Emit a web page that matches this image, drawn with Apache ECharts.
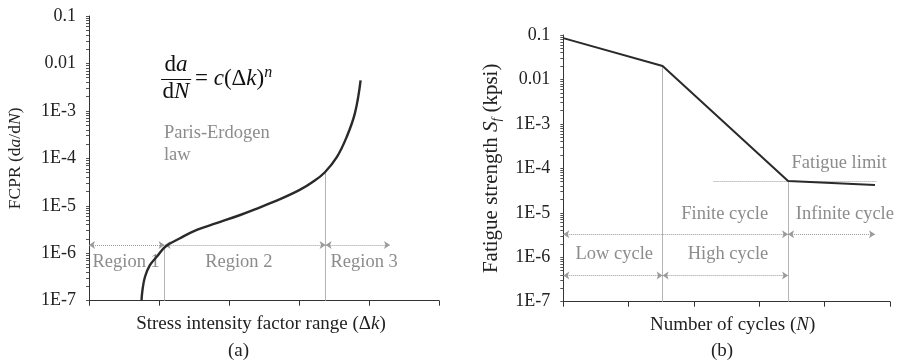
<!DOCTYPE html>
<html>
<head>
<meta charset="utf-8">
<script src="https://cdn.jsdelivr.net/npm/echarts@6/dist/echarts.min.js"></script>
<style>
html, body { margin: 0; padding: 0; background: #fff; }
#main { width: 899px; height: 364px; }
</style>
</head>
<body>
<div id="main"></div>
<script>
// decade labels on both log axes, bottom to top
var yTickLabels = ['1E-7', '1E-6', '1E-5', '1E-4', '1E-3', '0.01', '0.1'];

// (a) crack growth rate curve
var fcprX = [0.75, 0.764, 0.80, 0.87, 0.97, 1.09, 1.30, 1.54, 1.82, 2.16, 2.37, 2.73, 3.01, 3.20, 3.37, 3.54, 3.68, 3.80, 3.88];
var fcprY = [1.0e-7, 1.68e-7, 3.2e-7, 5.6e-7, 8.5e-7, 1.37e-6, 2.07e-6, 3.1e-6, 4.3e-6, 6.4e-6, 8.4e-6, 1.38e-5, 2.16e-5, 3.2e-5, 5.1e-5, 1.06e-4, 2.8e-4, 9.1e-4, 4.4e-3];
var regionBounds = [0, 1.08, 3.38, 4.3];
var regionGuideTop = [1.4e-6, 5.3e-5];
var regionArrowY = 1.5e-6;
var regionNames = ['Region 1', 'Region 2', 'Region 3'];
var regionLabelX = [0.53, 2.14, 3.93];
var regionLabelY = 6.6e-7;

// (b) S-N curve
var snX = [0, 1.52, 3.44, 4.77];
var snY = [0.085, 0.02, 5.2e-5, 4.2e-5];
var fatigueLimitY = 5.1e-5;
var fatigueLimitX = [2.3, 4.79];
var finiteRowY = 3.3e-6;
var lowRowY = 3.9e-7;
var cycleNames = ['Finite cycle', 'Infinite cycle', 'Low cycle', 'High cycle', 'Fatigue limit'];
var cycleLabelX = [2.47, 4.31, 0.78, 2.52, 4.22];
var cycleLabelY = [9.4e-6, 9.4e-6, 1.18e-6, 1.18e-6, 1.3e-4];

var lg = Math.log10;
var FONT = '"Liberation Serif", "DejaVu Serif", serif';
var GRAY = '#8c8c8c';
var GUIDE = '#b4b4b4';

// minor ticks: 2..9 inside each decade
var yTicks = [];
for (var d = -7; d <= -1; d++) {
    yTicks.push(d);
    if (d < -1) {
        for (var k = 2; k <= 9; k++) yTicks.push(d + lg(k));
    }
}

function toPts(xs, ys) {
    var out = [];
    for (var i = 0; i < xs.length; i++) out.push([xs[i], lg(ys[i])]);
    return out;
}
function seg(x1, y1, x2, y2) {
    return [{ coord: [x1, lg(y1)] }, { coord: [x2, lg(y2)] }];
}
function txt(x, y, s, align, extra) {
    var label = {
        show: true, position: 'inside', formatter: s, align: align || 'center',
        color: GRAY, fontFamily: FONT, fontSize: 18.5
    };
    if (extra) for (var p in extra) label[p] = extra[p];
    return { coord: [x, lg(y)], symbol: 'circle', symbolSize: 0, label: label };
}

function xAxisOf(idx, name, pad) {
    return {
        gridIndex: idx, type: 'value', min: 0, max: 5, interval: 1,
        axisLine: { lineStyle: { color: '#333', width: 1 } },
        axisTick: { length: 5, lineStyle: { color: '#333' } },
        axisLabel: { show: false },
        splitLine: { show: false },
        name: name, nameLocation: 'middle', nameGap: 14,
        nameTextStyle: {
            color: '#222', fontFamily: FONT, fontSize: 19, padding: pad,
            rich: { i: { fontStyle: 'italic', fontFamily: FONT, fontSize: 19, color: '#222' } }
        }
    };
}
function yAxisOf(idx, name, gap, size) {
    return {
        gridIndex: idx, type: 'value', min: -7, max: -1, interval: 1,
        axisLine: { show: true, lineStyle: { color: '#333', width: 1 } },
        axisTick: { show: true, length: 3, customValues: yTicks, lineStyle: { color: '#555' } },
        axisLabel: {
            color: '#222', fontFamily: FONT, fontSize: 18, margin: 13,
            formatter: function (v) { return yTickLabels[Math.round(v) + 7]; }
        },
        splitLine: { show: false },
        name: name, nameLocation: 'middle', nameGap: gap,
        nameTextStyle: {
            color: '#222', fontFamily: FONT, fontSize: size,
            rich: {
                i: { fontStyle: 'italic', fontFamily: FONT, fontSize: size, color: '#222' },
                sub: { fontStyle: 'italic', fontFamily: FONT, fontSize: 13, color: '#222', padding: [10, 0, 0, 0] }
            }
        }
    };
}

var chart = echarts.init(document.getElementById('main'));

var dottedArrow = {
    silent: true, animation: false,
    symbol: ['arrow', 'arrow'], symbolSize: 6,
    lineStyle: { color: '#9a9a9a', type: 'dotted', width: 1 },
    label: { show: false }
};
var guideLine = {
    silent: true, animation: false, symbol: ['none', 'none'],
    lineStyle: { color: GUIDE, type: 'solid', width: 1 },
    label: { show: false }
};

var fracRich = {
    i: { fontStyle: 'italic', fontFamily: FONT, fontSize: 23, color: '#111' },
    sup: { fontStyle: 'italic', fontFamily: FONT, fontSize: 16, color: '#111', padding: [0, 0, 13, 0] }
};
var formulaStyle = { color: '#111', fontSize: 23, rich: fracRich };

var regionTexts = [];
for (var r = 0; r < regionNames.length; r++) {
    regionTexts.push(txt(regionLabelX[r], regionLabelY, regionNames[r]));
}
var cycleTexts = [];
for (var c = 0; c < cycleNames.length; c++) {
    cycleTexts.push(txt(cycleLabelX[c], cycleLabelY[c], cycleNames[c]));
}

var option = {
    animation: false,
    backgroundColor: '#fff',
    grid: [
        { left: 89, top: 16, width: 350, height: 284.7 },
        { left: 563.3, top: 35, width: 326.7, height: 266.7 }
    ],
    xAxis: [
        xAxisOf(0, 'Stress intensity factor range (Δ{i|k})', [0, 6, 0, 0]),
        xAxisOf(1, 'Number of cycles ({i|N})', [0, 0, 0, 12])
    ],
    yAxis: [
        yAxisOf(0, 'FCPR (d{i|a}/d{i|N})', 65, 17.5),
        yAxisOf(1, 'Fatigue strength {i|S}{sub|f} (kpsi)', 60, 21)
    ],
    graphic: [
        { type: 'text', left: 228, top: 342, style: { text: '(a)', font: '19px ' + FONT, fill: '#222' } },
        { type: 'text', left: 711, top: 342, style: { text: '(b)', font: '19px ' + FONT, fill: '#222' } }
    ],
    series: [
        {
            name: 'FCPR', type: 'line', xAxisIndex: 0, yAxisIndex: 0,
            data: toPts(fcprX, fcprY), smooth: 0.4, showSymbol: false,
            lineStyle: { color: '#2a2a2a', width: 2.4 }, z: 5,
            markPoint: {
                silent: true, animation: false,
                data: regionTexts.concat([
                    txt(1.07, Math.pow(10, -3.466), 'Paris-Erdogen', 'left'),
                    txt(1.07, Math.pow(10, -3.93), 'law', 'left'),
                    txt(1.243, Math.pow(10, -2.04), 'd{i|a}', 'center', formulaStyle),
                    txt(1.243, Math.pow(10, -2.6), 'd{i|N}', 'center', formulaStyle),
                    txt(1.514, Math.pow(10, -2.33), '= {i|c}(Δ{i|k}){sup|n}', 'left', formulaStyle)
                ])
            }
        },
        {
            name: 'guides a', type: 'line', xAxisIndex: 0, yAxisIndex: 0, data: [],
            markLine: Object.assign({}, guideLine, {
                data: [
                    seg(regionBounds[1], 1e-7, regionBounds[1], regionGuideTop[0]),
                    seg(regionBounds[2], 1e-7, regionBounds[2], regionGuideTop[1])
                ]
            })
        },
        {
            name: 'arrows a', type: 'line', xAxisIndex: 0, yAxisIndex: 0, data: [],
            markLine: Object.assign({}, dottedArrow, {
                data: [
                    seg(regionBounds[0], regionArrowY, regionBounds[1], regionArrowY),
                    seg(regionBounds[1], regionArrowY, regionBounds[2], regionArrowY),
                    seg(regionBounds[2], regionArrowY, regionBounds[3], regionArrowY)
                ]
            })
        },
        {
            name: 'fraction bar', type: 'line', xAxisIndex: 0, yAxisIndex: 0, data: [],
            markLine: {
                silent: true, animation: false, symbol: ['none', 'none'], label: { show: false },
                lineStyle: { color: '#111', type: 'solid', width: 1 },
                data: [seg(1.03, Math.pow(10, -2.334), 1.46, Math.pow(10, -2.334))]
            }
        },
        {
            name: 'S-N', type: 'line', xAxisIndex: 1, yAxisIndex: 1,
            data: toPts(snX, snY), showSymbol: false,
            lineStyle: { color: '#2a2a2a', width: 2 }, z: 5,
            markPoint: { silent: true, animation: false, data: cycleTexts }
        },
        {
            name: 'guides b', type: 'line', xAxisIndex: 1, yAxisIndex: 1, data: [],
            markLine: Object.assign({}, guideLine, {
                data: [
                    seg(snX[1], 1e-7, snX[1], snY[1]),
                    seg(snX[2], 1e-7, snX[2], snY[2])
                ]
            })
        },
        {
            name: 'limit b', type: 'line', xAxisIndex: 1, yAxisIndex: 1, data: [],
            markLine: {
                silent: true, animation: false, symbol: ['none', 'none'], label: { show: false },
                lineStyle: { color: '#9a9a9a', type: 'dotted', width: 1 },
                data: [seg(fatigueLimitX[0], fatigueLimitY, fatigueLimitX[1], fatigueLimitY)]
            }
        },
        {
            name: 'arrows b', type: 'line', xAxisIndex: 1, yAxisIndex: 1, data: [],
            markLine: Object.assign({}, dottedArrow, {
                data: [
                    seg(0, finiteRowY, snX[2], finiteRowY),
                    seg(snX[2], finiteRowY, snX[3], finiteRowY),
                    seg(0, lowRowY, snX[1], lowRowY),
                    seg(snX[1], lowRowY, snX[2], lowRowY)
                ]
            })
        }
    ]
};
chart.setOption(option);
</script>
</body>
</html>
